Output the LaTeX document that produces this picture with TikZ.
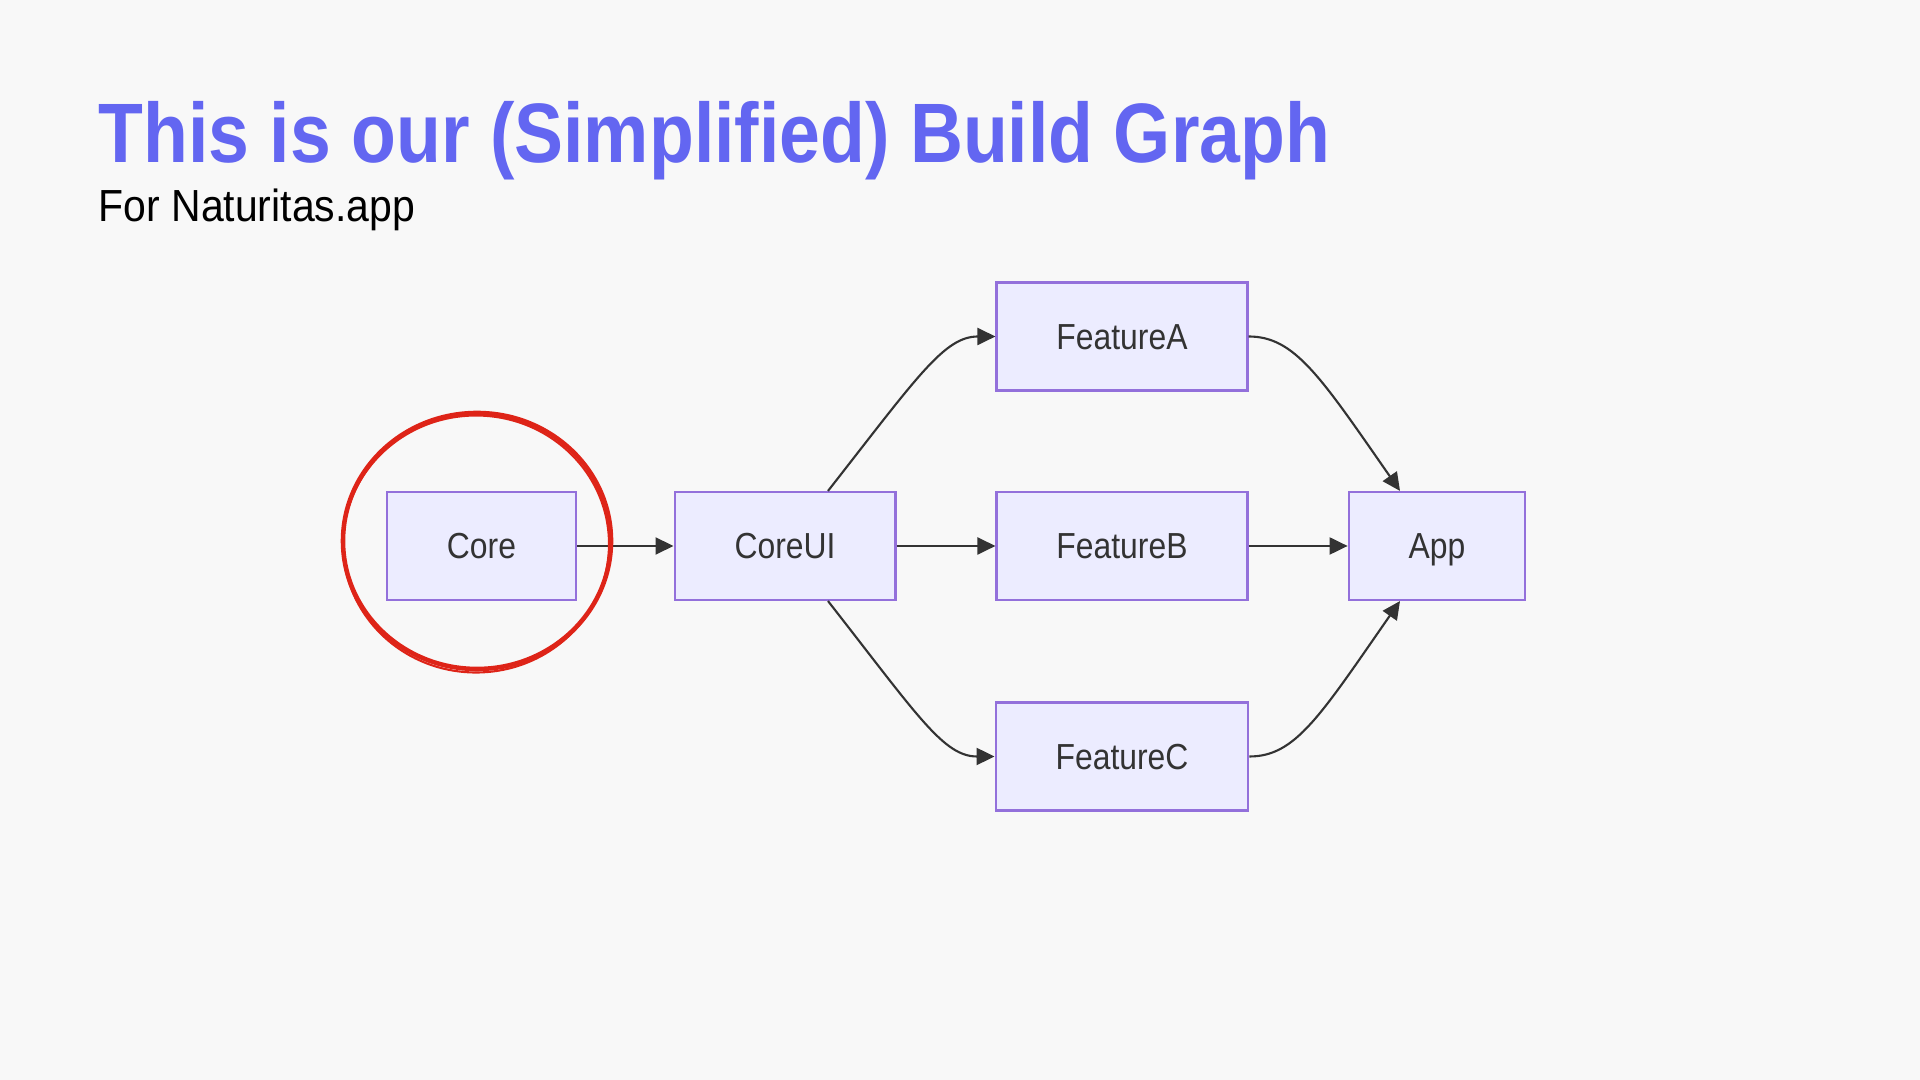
\documentclass[tikz,border=0pt]{standalone}
\usepackage{fontspec}
\setmainfont{Liberation Sans}
\newfontfamily\titlefont[FakeStretch=0.87]{Liberation Sans}
\newfontfamily\subfont[FakeStretch=0.91]{Liberation Sans}
\newfontfamily\labelfont[FakeStretch=0.88]{Liberation Sans}
\usepackage{xcolor}
\definecolor{bgray}{RGB}{248,248,248}
\definecolor{ttlindigo}{RGB}{99,102,241}
\definecolor{mmfill}{RGB}{236,236,255}
\definecolor{mmstroke}{RGB}{147,112,219}
\definecolor{mmline}{RGB}{51,51,51}
\definecolor{penred}{RGB}{222,36,24}
\usetikzlibrary{arrows.meta}

\tikzset{
  modbox/.style={draw=mmstroke, fill=mmfill, line width=0.6pt, minimum height=1.08cm,
                 inner xsep=0.6cm, text height=2.9mm, text depth=0.3mm,
                 font=\labelfont\fontsize{10.3}{12}\selectfont, text=mmline},
  dep/.style={draw=mmline, line width=0.6pt, -{Triangle[length=1.8mm, width=1.7mm]}}
}

\begin{document}
\begin{tikzpicture}
  % Background
  \fill[bgray] (0,0) rectangle (19.2,10.8);
  \useasboundingbox (0,0) rectangle (19.2,10.8);

  % --- Heading ---
  \node[anchor=base west, inner sep=0, text=ttlindigo, font=\titlefont\bfseries\fontsize{24}{28}\selectfont] (ttl) at (0.98,9.17) {This is our (Simplified) Build Graph};
  \node[anchor=base west, inner sep=0, font=\subfont\fontsize{12.8}{15}\selectfont] (sub) at (0.98,8.58) {For Naturitas.app};

  % --- Modules ---
  \node[modbox] (core)   at (4.815,5.34) {Core};
  \node[modbox] (coreui) at (7.85,5.34)  {CoreUI};
  \node[modbox] (featA)  at (11.22,7.435) {FeatureA};
  \node[modbox] (featB)  at (11.22,5.34) {FeatureB};
  \node[modbox] (featC)  at (11.22,3.235) {FeatureC};
  \node[modbox] (app)    at (14.37,5.34) {App};

  % --- Dependencies ---
  \draw[dep] (core.east) -- (coreui.west);
  \draw[dep] (coreui.east) -- (featB.west);
  \draw[dep] (featB.east) -- (app.west);
  \draw[dep] ([xshift=4.3mm]coreui.north) .. controls +(0.9,1.15) and +(-0.51,0) .. (featA.west);
  \draw[dep] ([xshift=4.3mm]coreui.south) .. controls +(0.9,-1.15) and +(-0.51,0) .. (featC.west);
  \draw[dep] (featA.east) .. controls +(0.46,0) and +(-0.8,1.15) .. ([xshift=-3.7mm]app.north);
  \draw[dep] (featC.east) .. controls +(0.46,0) and +(-0.8,-1.15) .. ([xshift=-3.7mm]app.south);

  % Red pen circle round Core
  \draw[penred, line width=1.3pt] (4.77,5.39) ellipse (1.34 and 1.28);
  \draw[penred, line width=0.6pt] (4.76,5.36) ellipse (1.33 and 1.285);
\end{tikzpicture}
\end{document}
